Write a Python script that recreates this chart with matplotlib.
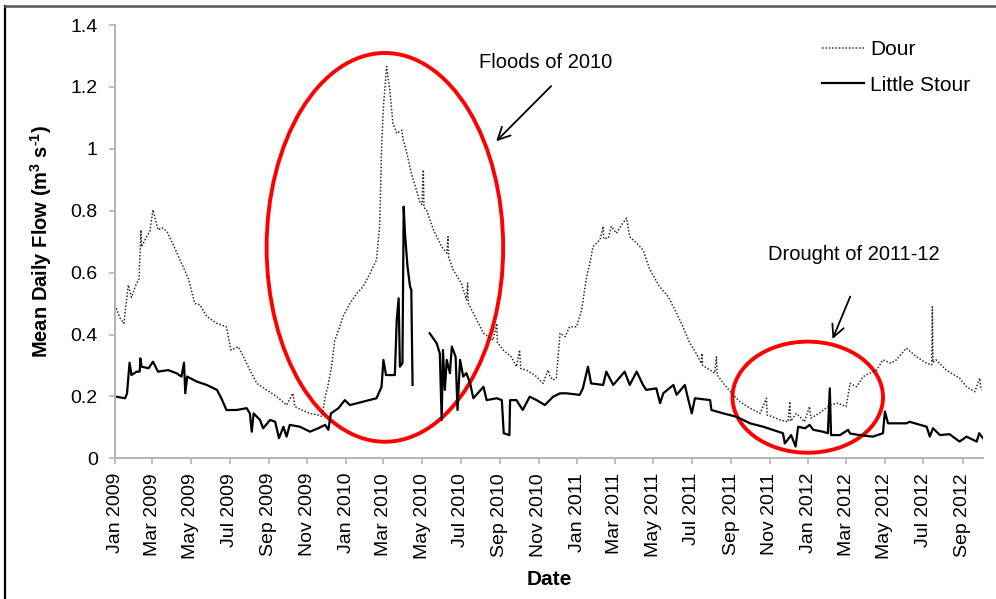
import numpy as np
import matplotlib
matplotlib.use("Agg")
import matplotlib.pyplot as plt
import matplotlib.dates as mdates
from matplotlib.patches import Ellipse
from matplotlib.lines import Line2D

plt.rcParams['font.family'] = ['Liberation Sans', 'DejaVu Sans']
plt.rcParams['mathtext.fontset'] = 'custom'
plt.rcParams['mathtext.rm'] = 'Liberation Sans:bold'
plt.rcParams['mathtext.bf'] = 'Liberation Sans:bold'

START = np.datetime64('2009-01-01')

# ---- data (day offset from 1 Jan 2009, flow in m3/s) ----
dour_day = [2,8,14,21,26,33,38,41,42,50,55,60,68,74,82,92,105,116,126,134,145,161,176,183,195,203,213,224,240,255,271,281,284,295,308,321,327,332,336,342,347,355,360,371,382,392,403,413,418,421,424,429,434,439,445,453,455,461,468,476,482,485,487,488,492,503,516,524,526,527,534,547,555,557,558,566,582,597,603,604,613,626,634,639,641,650,666,676,684,687,692,697,703,711,718,729,737,745,750,755,766,771,772,779,784,792,800,808,813,824,834,845,860,874,887,897,908,918,926,927,928,940,947,950,951,961,974,987,1003,1019,1029,1030,1039,1050,1063,1066,1067,1076,1082,1089,1097,1099,1103,1116,1129,1142,1155,1161,1171,1182,1192,1203,1213,1226,1234,1250,1266,1282,1290,1291,1292,1297,1313,1334,1345,1358,1366,1368]
dour_flow = [0.485,0.453,0.436,0.56,0.52,0.56,0.58,0.738,0.684,0.716,0.733,0.803,0.738,0.745,0.733,0.69,0.63,0.58,0.50,0.496,0.458,0.436,0.425,0.35,0.36,0.328,0.285,0.242,0.22,0.20,0.172,0.21,0.167,0.156,0.145,0.14,0.135,0.20,0.23,0.296,0.38,0.425,0.458,0.50,0.533,0.555,0.598,0.641,0.749,0.997,1.137,1.266,1.19,1.083,1.05,1.06,1.03,0.986,0.921,0.867,0.824,0.82,0.932,0.81,0.803,0.738,0.684,0.663,0.716,0.65,0.609,0.566,0.512,0.566,0.50,0.469,0.404,0.382,0.436,0.375,0.35,0.328,0.296,0.35,0.29,0.285,0.264,0.242,0.285,0.264,0.253,0.259,0.404,0.393,0.425,0.425,0.48,0.587,0.63,0.684,0.706,0.749,0.71,0.711,0.749,0.727,0.754,0.776,0.716,0.695,0.673,0.609,0.555,0.522,0.469,0.425,0.372,0.339,0.307,0.339,0.30,0.285,0.275,0.328,0.27,0.242,0.21,0.183,0.162,0.145,0.194,0.14,0.134,0.124,0.118,0.183,0.12,0.145,0.134,0.118,0.167,0.13,0.134,0.151,0.172,0.178,0.167,0.242,0.231,0.264,0.275,0.285,0.318,0.307,0.318,0.356,0.328,0.307,0.302,0.49,0.31,0.318,0.285,0.259,0.231,0.215,0.259,0.22]

stour_day = [2,16,19,23,26,34,39,40,42,53,60,68,84,97,105,109,111,114,129,145,161,168,176,192,208,213,216,219,229,234,245,253,259,266,271,276,292,308,321,332,337,341,353,363,371,392,413,421,424,428,442,445,448,450,454,456,458,462,466,468,470,480,497,508,513,516,518,521,524,529,532,538,541,545,550,555,561,566,582,587,603,611,614,623,624,634,644,655,666,679,692,703,713,734,739,747,752,771,776,787,805,813,824,834,839,855,861,866,882,887,900,905,911,916,940,942,961,982,1003,1024,1039,1055,1058,1068,1075,1079,1090,1097,1103,1118,1126,1129,1131,1145,1158,1161,1176,1197,1213,1216,1221,1250,1255,1282,1287,1292,1303,1318,1334,1345,1361,1365,1371]
stour_flow = [0.199,0.194,0.21,0.309,0.269,0.28,0.28,0.323,0.296,0.291,0.312,0.28,0.285,0.275,0.264,0.309,0.21,0.264,0.248,0.237,0.221,0.194,0.156,0.156,0.162,0.145,0.086,0.145,0.124,0.097,0.124,0.118,0.065,0.102,0.07,0.108,0.102,0.086,0.097,0.108,0.092,0.145,0.162,0.188,0.172,0.183,0.194,0.231,0.318,0.269,0.269,0.447,0.517,0.296,0.307,0.813,0.727,0.62,0.555,0.544,0.237,np.nan,0.404,0.372,0.339,0.124,0.35,0.221,0.318,0.275,0.361,0.328,0.156,0.318,0.264,0.275,0.242,0.194,0.231,0.188,0.194,0.188,0.081,0.075,0.188,0.188,0.156,0.199,0.188,0.172,0.199,0.21,0.21,0.205,0.226,0.296,0.242,0.237,0.28,0.237,0.28,0.237,0.28,0.237,0.221,0.226,0.178,0.21,0.237,0.205,0.237,0.194,0.145,0.194,0.188,0.156,0.145,0.134,0.113,0.102,0.092,0.081,0.048,0.075,0.038,0.102,0.097,0.108,0.092,0.086,0.081,0.226,0.075,0.075,0.092,0.08,0.075,0.07,0.081,0.151,0.113,0.113,0.118,0.102,0.07,0.097,0.075,0.078,0.054,0.07,0.054,0.081,0.065]

series_names = ['Dour', 'Little Stour']
y_ticks = [0, 0.2, 0.4, 0.6, 0.8, 1.0, 1.2, 1.4]
y_tick_labels = ['0', '0.2', '0.4', '0.6', '0.8', '1', '1.2', '1.4']

assert len(dour_day) == len(dour_flow), (len(dour_day), len(dour_flow))
assert len(stour_day) == len(stour_flow), (len(stour_day), len(stour_flow))

def to_dates(days):
    return START + np.array(days, dtype='timedelta64[D]')

W, H = 996, 599
fig = plt.figure(figsize=(W / 100, H / 100), dpi=100)
ax = fig.add_axes([115 / W, 1 - 458.3 / H, (983 - 115) / W, (458.3 - 25) / H])

ax.plot(to_dates(dour_day), dour_flow, color='#2e2e2e', lw=1.1,
        linestyle=(0, (1, 1.2)), label=series_names[0])
ax.plot(to_dates(stour_day), stour_flow, color='black', lw=1.6,
        label=series_names[1])

x0 = mdates.date2num(START)
ax.set_xlim(x0, x0 + 1371)
ax.set_ylim(0, 1.4)
ax.set_yticks(y_ticks)
ax.set_yticklabels(y_tick_labels)

ax.xaxis.set_major_locator(mdates.MonthLocator(bymonth=[1, 3, 5, 7, 9, 11]))
ax.xaxis.set_major_formatter(mdates.DateFormatter('%b %Y'))
for lab in ax.get_xticklabels():
    lab.set_rotation(90)

gray = '#b4b4b4'
for s in ['top', 'right']:
    ax.spines[s].set_visible(False)
for s in ['left', 'bottom']:
    ax.spines[s].set_color(gray)
    ax.spines[s].set_linewidth(1.4)
ax.tick_params(axis='both', colors=gray, labelcolor='black', labelsize=14,
               length=4.5, width=1.2, direction='out')
ax.tick_params(axis='y', pad=8)
ax.tick_params(axis='x', pad=6)

ax.set_ylabel(r'Mean Daily Flow (m$^{\mathbf{3}}$ s$^{\text{-}\mathbf{1}}$)',
              fontsize=14.5, fontweight='bold', labelpad=12)
ax.set_xlabel('Date', fontsize=15, fontweight='bold', labelpad=8)

# annotations
ax.add_patch(Ellipse((x0 + 426.3, 0.6815), width=373.6, height=1.256,
                     fill=False, edgecolor='#ff0000', lw=2.8, clip_on=False))
ax.add_patch(Ellipse((x0 + 1094.2, 0.1975), width=237.8, height=0.359,
                     fill=False, edgecolor='#ff0000', lw=2.8, clip_on=False))

ax.annotate('', xy=(x0 + 599, 1.018), xytext=(x0 + 692, 1.209),
            arrowprops=dict(arrowstyle='->', color='black', lw=1.3,
                            mutation_scale=22))
ax.annotate('', xy=(x0 + 1131.7, 0.377), xytext=(x0 + 1163, 0.531),
            arrowprops=dict(arrowstyle='->', color='black', lw=1.3,
                            mutation_scale=22))
ax.text(x0 + 680.5, 1.278, 'Floods of 2010', fontsize=14.5,
        ha='center', va='center')
ax.text(x0 + 1167.6, 0.657, 'Drought of 2011-12', fontsize=14.5,
        ha='center', va='center')

leg = ax.legend(loc='upper left', bbox_to_anchor=(822 / W, 1 - 40 / H),
                bbox_transform=fig.transFigure, frameon=False, fontsize=15,
                handlelength=2.0, handletextpad=0.3, labelspacing=0.8,
                borderaxespad=0, borderpad=0)

# figure frame (top and left edges)
fig.add_artist(Line2D([4.5 / W, 4.5 / W], [0, 1 - 5.5 / H], transform=fig.transFigure,
                      color='black', lw=1.6))
fig.add_artist(Line2D([4.5 / W, 1], [1 - 5.5 / H, 1 - 5.5 / H], transform=fig.transFigure,
                      color='#555555', lw=1.8))

fig.savefig('out.png', dpi=100)
